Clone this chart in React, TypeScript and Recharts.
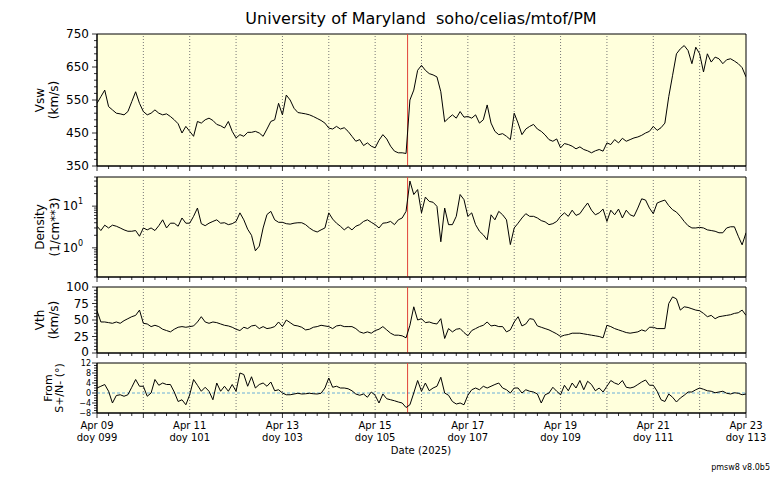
import { LineChart, Line, XAxis, YAxis, ReferenceLine, ReferenceArea, CartesianGrid } from 'recharts'

// 2-hour samples, 2025-04-09 00:00 UT (doy 099) .. 2025-04-23 00:00 UT
const SAMPLE_HOURS = 2
const SHOCK_DAY = 6.7

const vsw = [
  540, 560, 580, 530, 520, 510, 508, 505, 515, 545,
  575, 540, 515, 505, 510, 520, 510, 505, 508, 500,
  490, 478, 450, 470, 455, 440, 485, 480, 490, 495,
  488, 476, 472, 465, 485, 455, 435, 445, 440, 452,
  452, 455, 450, 440, 462, 485, 490, 540, 505, 565,
  550, 525, 512, 510, 508, 505, 500, 494, 488, 480,
  465, 462, 470, 462, 466, 455, 440, 425, 430, 412,
  420, 410, 405, 428, 445, 432, 410, 395, 390, 390,
  388, 550, 580, 640, 655, 640, 630, 626, 620, 575,
  484, 495, 505, 495, 515, 498, 500, 495, 505, 480,
  490, 535, 480, 455, 445, 448, 440, 430, 510, 480,
  445, 462, 470, 476, 462, 455, 444, 430, 425, 432,
  405, 418, 415, 410, 402, 408, 400, 396, 390, 396,
  400, 395, 420, 415, 430, 420, 434, 425, 430, 435,
  438, 443, 450, 455, 470, 458, 466, 480, 560, 625,
  690, 705, 715, 700, 660, 710, 690, 635, 690, 665,
  680, 675, 660, 672, 675, 668, 660, 648, 620,
]

const density = [
  3.3, 2.6, 3.5, 3.0, 3.5, 3.3, 3.0, 2.7, 2.5, 2.5,
  2.6, 1.9, 3.0, 2.7, 3.0, 2.6, 3.4, 4.7, 3.0, 3.9,
  3.9, 3.3, 5.2, 3.9, 3.9, 5.7, 9.0, 3.8, 3.4, 3.9,
  4.3, 4.7, 3.9, 4.0, 3.6, 3.8, 4.3, 6.9, 4.7, 2.8,
  2.0, 0.85, 1.1, 3.0, 6.3, 7.5, 4.7, 4.1, 4.1, 3.8,
  3.7, 3.9, 4.0, 4.0, 3.6, 3.0, 2.6, 2.4, 2.7, 3.0,
  6.9, 4.9, 3.9, 3.3, 2.7, 3.2, 2.7, 3.3, 3.6, 4.3,
  4.7, 4.1, 3.6, 3.0, 3.9, 4.0, 4.3, 3.6, 4.7, 5.2,
  7.5, 40, 19, 25, 6.9, 16.5, 13, 12.4, 9.9, 1.4,
  9.0, 3.6, 3.6, 5.7, 19, 14.3, 5.7, 6.9, 3.6, 2.5,
  2.05, 1.56, 6.2, 4.7, 7.5, 6.2, 4.7, 1.2, 3.0, 3.9,
  5.2, 6.6, 5.7, 5.7, 5.2, 4.5, 4.2, 3.6, 3.8, 4.3,
  5.7, 6.9, 5.7, 8.0, 6.0, 6.6, 9.0, 11.9, 8.0, 6.2,
  6.9, 8.5, 4.3, 8.0, 6.2, 8.5, 5.2, 8.0, 6.2, 5.7,
  9.0, 15, 14, 9.0, 6.6, 11.9, 13, 14, 10.3, 8.2,
  7.2, 5.7, 4.3, 3.4, 3.0, 3.0, 3.1, 3.0, 2.7, 2.6,
  2.5, 2.3, 2.3, 3.0, 3.2, 3.2, 1.9, 1.18, 2.3,
]

const vth = [
  64, 47, 47, 46, 45, 47, 45, 49, 52, 55,
  57, 65, 45, 44, 40, 42, 40, 36, 34, 32,
  36, 39, 40, 39, 40, 41, 47, 55, 47, 45,
  47, 46, 44, 42, 41, 39, 36, 34, 39, 37,
  41, 42, 37, 40, 37, 38, 40, 47, 40, 50,
  46, 42, 41, 39, 35, 36, 39, 40, 42, 41,
  40, 37, 41, 42, 40, 40, 40, 37, 32, 30,
  32, 30, 34, 36, 40, 35, 30, 27, 27, 26,
  23, 42, 70, 50, 52, 46, 47, 45, 44, 52,
  22, 37, 32, 36, 37, 31, 26, 34, 37, 40,
  42, 47, 41, 42, 40, 40, 32, 35, 47, 55,
  41, 44, 52, 51, 41, 39, 37, 35, 32, 29,
  25, 27, 28, 30, 30, 30, 29, 28, 27, 26,
  25, 23, 42, 40, 37, 35, 33, 31, 30, 31,
  32, 35, 33, 39, 39, 37, 37, 37, 75, 85,
  82, 65, 70, 69, 67, 65, 64, 60, 55, 57,
  52, 55, 56, 57, 58, 60, 61, 65, 57,
]

const flowAngle = [
  2, 2.7, 3.4, 0.7, -4, -1, -0.7, -1.3, -0.7, 2.3,
  5.4, 2.7, 2.7, -1.3, 0, 5.4, 3.1, 4, 3.4, 3.4,
  0.4, -3.4, -2.7, -4.7, -0.7, 5.4, 3.1, 0.7, 2.3, 0.7,
  -2.7, 4, 0.7, 2.7, 0.7, 3.4, 0.7, 8, 7.4, 2.7,
  6.5, 2, 3.4, 4, 2.7, 4.4, 0.9, 1.3, 0, -0.7,
  -0.7, -0.4, -0.1, -0.4, -0.3, -0.1, -0.3, -0.4, -0.1, 2,
  6, 2.3, 2.7, 2, 2, 1.7, 0.9, -0.4, -0.9, -0.4,
  -1.7, 0.4, -0.9, -4, -0.4, -2.3, -2.7, -3.1, -3.6, -4,
  -5.8, -4.7, 0, 5, 0.7, 4, 0.9, 2, 2.7, 6.3,
  0, -0.9, -3.4, -4.4, -4, -4.7, -0.9, 1.3, 2, 1.3,
  2.7, 2, 2.7, 3.4, 4, 2, 1.3, 0, 2, 2,
  0, 1.3, 0.7, 0.4, -0.4, -4, -0.7, 0, 2.3, 0.7,
  -0.7, 3.1, 0.9, 4, 2, 5, 1.3, 4.7, 3.4, 0.9,
  2, 0.4, 2.7, 5, 4, 3.4, 5, 2.3, 2, 2.4,
  3.4, 4.4, 5.2, 3.1, 3.1, 0.7, -2.7, -3.4, -0.4, -1.7,
  -3.6, -2, -0.9, 0.4, 0.4, 1.3, 2, 1.5, 0.9, 0.7,
  0.1, 0.4, 0.7, -0.1, -0.4, 0.1, -0.1, -0.7, -0.4,
]

const dateLabels = ['Apr 09', 'Apr 11', 'Apr 13', 'Apr 15', 'Apr 17', 'Apr 19', 'Apr 21', 'Apr 23']
const doyLabels = ['doy 099', 'doy 101', 'doy 103', 'doy 105', 'doy 107', 'doy 109', 'doy 111', 'doy 113']
const densityTicks = [0.2, 0.3, 0.4, 0.5, 0.6, 0.7, 0.8, 0.9, 1, 2, 3, 4, 5, 6, 7, 8, 9, 10, 20, 30, 40, 50]

const FONT = '"DejaVu Sans", sans-serif'
const BG = '#ffffdc'
const W = 776
const LEFT = 97
const RIGHT = 30
const Y_AXIS_W = 60
const MT = 6

const data = vsw.map((v, i) => ({
  t: (i * SAMPLE_HOURS) / 24,
  vsw: v,
  density: density[i],
  vth: vth[i],
  angle: flowAngle[i],
}))

const range = (a: number, b: number, step: number) => {
  const out: number[] = []
  for (let v = a; v <= b + 1e-9; v += step) out.push(+v.toFixed(4))
  return out
}

const xTicks = range(0, 14, 0.25)
const dayLines = range(1, 13, 1)

interface Panel {
  key: string
  top: number
  height: number
  domain: [number, number]
  log?: boolean
  ticks: number[]
  major: number[]
  tickFont: number
  tickGap: number
  labels: string[]
  labelX: number[]
  labelFont: number
  zero?: boolean
  dates?: boolean
}

const panels: Panel[] = [
  {
    key: 'vsw', top: 34, height: 132, domain: [350, 750],
    ticks: range(350, 750, 20), major: range(350, 750, 100),
    tickFont: 12, tickGap: 8, labels: ['Vsw', '(km/s)'], labelX: [43.5, 57.5], labelFont: 12,
  },
  {
    key: 'density', top: 177, height: 100, domain: [0.2, 50], log: true,
    ticks: densityTicks, major: [1, 10],
    tickFont: 12, tickGap: 8, labels: ['Density', '(1/cm**3)'], labelX: [44, 58.5], labelFont: 12,
  },
  {
    key: 'vth', top: 287, height: 66, domain: [0, 100],
    ticks: range(0, 100, 5), major: range(0, 100, 25),
    tickFont: 12, tickGap: 8, labels: ['Vth', '(km/s)'], labelX: [43.5, 57.5], labelFont: 12,
  },
  {
    key: 'angle', top: 363, height: 50, domain: [-8, 12],
    ticks: range(-8, 12, 1), major: range(-8, 12, 4),
    tickFont: 8, tickGap: 6, labels: ['From', 'S+/N- (°)'], labelX: [52, 63], labelFont: 11,
    zero: true, dates: true,
  },
]

const fmt = (v: number) => (v < 0 ? '\u2212' + Math.abs(v) : String(v))

const makeYTick = (p: Panel) => (props: any) => {
  const { x, y, payload } = props
  const v = payload.value
  const isMajor = p.major.includes(v)
  // the lowest label of the Vth panel sits a touch higher so it clears the panel below
  const ty = p.key === 'vth' && v === 0 ? y - 1.5 : y
  return (
    <g>
      <line x1={x - (isMajor ? 5 : 3)} x2={x} y1={y} y2={y} stroke="#000" strokeWidth={0.8} />
      {isMajor && (p.log ? (
        <text x={x - p.tickGap - 6} y={y + 4} textAnchor="end" fontSize={p.tickFont} fontFamily={FONT} fill="#000">
          10
          <tspan dy={-6} fontSize={8}>{Math.round(Math.log10(v))}</tspan>
        </text>
      ) : (
        <text x={x - p.tickGap} y={ty} textAnchor="end" dominantBaseline="central" fontSize={p.tickFont} fontFamily={FONT} fill="#000">
          {fmt(v)}
        </text>
      ))}
    </g>
  )
}

const makeXTick = (p: Panel) => (props: any) => {
  const { x, y, payload } = props
  const v = payload.value
  const isDay = Math.abs(v - Math.round(v)) < 1e-6
  const k = Math.round(v) / 2
  const labelled = p.dates && isDay && Number.isInteger(k)
  return (
    <g>
      <line x1={x} x2={x} y1={y} y2={y + (isDay ? 5 : 3)} stroke="#000" strokeWidth={0.8} />
      {labelled && (
        <text x={x} textAnchor="middle" fontSize={10} fontFamily={FONT} fill="#000">
          <tspan x={x} y={y + 16}>{dateLabels[k]}</tspan>
          <tspan x={x} y={y + 28}>{doyLabels[k]}</tspan>
        </text>
      )}
    </g>
  )
}

const PanelChart = ({ p }: { p: Panel }) => {
  const xh = p.dates ? 45 : 8
  return (
    <div style={{ position: 'absolute', left: 0, top: p.top - MT }}>
      <LineChart
        width={W}
        height={MT + p.height + xh}
        data={data}
        margin={{ top: MT, right: RIGHT, bottom: 0, left: LEFT - Y_AXIS_W }}
      >
        <CartesianGrid fill={BG} fillOpacity={1} horizontal={false} vertical={false} />
        <XAxis
          dataKey="t"
          type="number"
          domain={[0, 14]}
          ticks={xTicks}
          interval={0}
          allowDataOverflow
          height={xh}
          tickSize={0}
          tickMargin={0}
          tickLine={false}
          axisLine={{ stroke: '#000' }}
          tick={makeXTick(p)}
        />
        <YAxis
          type="number"
          scale={p.log ? 'log' : 'linear'}
          domain={p.domain}
          ticks={p.ticks}
          interval={0}
          allowDataOverflow
          width={Y_AXIS_W}
          tickSize={0}
          tickMargin={0}
          tickLine={false}
          axisLine={{ stroke: '#000' }}
          tick={makeYTick(p)}
        />
        {dayLines.map((d) => (
          <ReferenceLine key={d} x={d} stroke="#777" strokeWidth={1} strokeDasharray="1 2" />
        ))}
        {p.zero && <ReferenceLine y={0} stroke="#5aa5d6" strokeWidth={0.9} strokeDasharray="3 2" />}
        <ReferenceLine x={SHOCK_DAY} stroke="#e0443a" strokeWidth={1} />
        <Line
          type="linear"
          dataKey={p.key}
          stroke="#000"
          strokeWidth={1}
          dot={false}
          isAnimationActive={false}
        />
        <ReferenceArea
          x1={0}
          x2={14}
          y1={p.domain[0]}
          y2={p.domain[1]}
          fill="none"
          stroke="#000"
          strokeWidth={1}
          ifOverflow="visible"
        />
      </LineChart>
    </div>
  )
}

const App = () => {
  return (
    <div style={{ position: 'absolute', left: 0, top: 0, width: W, height: 480, background: '#fff', fontFamily: FONT }}>
      {panels.map((p) => (
        <PanelChart key={p.key} p={p} />
      ))}
      <svg width={W} height={480} style={{ position: 'absolute', left: 0, top: 0, pointerEvents: 'none' }}>
        <text x={421} y={24} textAnchor="middle" fontSize={16} fontFamily={FONT} fill="#000" style={{ whiteSpace: 'pre' }}>
          University of Maryland  soho/celias/mtof/PM
        </text>
        {panels.map((p) => {
          const cy = p.top + p.height / 2
          return p.labels.map((s, j) => (
            <text
              key={p.key + j}
              x={p.labelX[j]}
              y={cy}
              transform={`rotate(-90 ${p.labelX[j]} ${cy})`}
              textAnchor="middle"
              fontSize={p.labelFont}
              fontFamily={FONT}
              fill="#000"
            >
              {s}
            </text>
          ))
        })}
        <text x={421} y={454} textAnchor="middle" fontSize={10} fontFamily={FONT} fill="#000">
          Date (2025)
        </text>
        <text x={770} y={470} textAnchor="end" fontSize={8} fontFamily={FONT} fill="#000">
          pmsw8 v8.0b5
        </text>
      </svg>
    </div>
  )
}

export default App
